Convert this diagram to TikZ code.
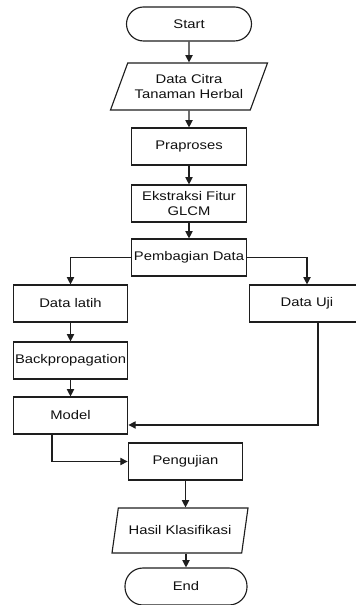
\documentclass[tikz,border=0pt]{standalone}
\usepackage{fontspec}
\setmainfont{Liberation Sans}[FakeStretch=1.18]
\usepackage{xcolor}
\definecolor{garisGelap}{HTML}{1E1E1E}
\definecolor{teksHitam}{HTML}{111111}
\usepackage{tikz}
\usetikzlibrary{arrows.meta, shapes.geometric}
\tikzset{
  %% ── Kotak ────────────────────────────────────────────────────────────
  %% Satu kotak dasar; terminal dan masukan/keluaran hanya mengubah bentuk.
  proses/.style   = {draw=garisGelap, line width=0.85pt, fill=white,
                     text=teksHitam, align=center, inner sep=1pt,
                     minimum width=86pt, minimum height=27.75pt,
                     font=\fontsize{9.4}{11}\selectfont},
  terminal/.style = {proses, rounded corners=12.75pt, minimum width=93.75pt,
                     minimum height=25.5pt},
  masukan/.style  = {proses, trapezium, trapezium stretches body},
  %%
  %% ── Panah ────────────────────────────────────────────────────────────
  panah/.style    = {-{Triangle[length=5.5pt, width=5.5pt]}, draw=garisGelap,
                     line width=0.85pt},
}

\begin{document}
\begin{tikzpicture}[x=0.75pt, y=-0.75pt]

\useasboundingbox (0,0) rectangle (355,605);

\node[terminal] (mulai) at (189,24) {Start};
\node[masukan, trapezium left angle=57, trapezium right angle=123,
      minimum width=117.75pt, minimum height=35.25pt] (citra) at (189,86.5)
     {Data Citra\\Tanaman Herbal};
\node[proses] (praproses) at (189,146.5) {Praproses};
\node[proses] (ekstraksi) at (189,203.5) {Ekstraksi Fitur\\GLCM};
\node[proses] (pembagian) at (189,257.5) {Pembagian Data};

\node[proses] (latih)    at (70.5,303.5) {Data latih};
\node[proses] (uji)      at (307,303.5)  {Data Uji};
\node[proses] (backprop) at (70.5,360.5) {Backpropagation};
\node[proses] (model)    at (70.5,415.5) {Model};

\node[proses] (pengujian) at (185.5,461.5) {Pengujian};
\node[masukan, trapezium left angle=62, trapezium right angle=118,
      minimum width=102pt, minimum height=33.75pt] (hasil) at (180,530.5)
     {Hasil Klasifikasi};
\node[terminal, minimum width=91.5pt, minimum height=27.75pt,
      rounded corners=13.5pt] (selesai) at (186,586.5) {End};

%% alur utama
\draw[panah] (mulai) -- (citra);
\draw[panah] (citra) -- (praproses);
\draw[panah] (praproses) -- (ekstraksi);
\draw[panah] (ekstraksi) -- (pembagian);

%% pembagian data
\draw[panah] (pembagian.west) -| (latih.north);
\draw[panah] (pembagian.east) -| (uji.north);
\draw[panah] (latih) -- (backprop);
\draw[panah] (backprop) -- (model);
\draw[panah] ([xshift=8.25pt]uji.south) |- ([yshift=-7.1pt]model.east);

%% pengujian
\draw[panah] ([xshift=-13.9pt]model.south) |- (pengujian.west);
\draw[panah] (pengujian.south) -- (pengujian.south |- hasil.north);
\draw[panah] (selesai.north |- hasil.south) -- (selesai.north);

\end{tikzpicture}
\end{document}
